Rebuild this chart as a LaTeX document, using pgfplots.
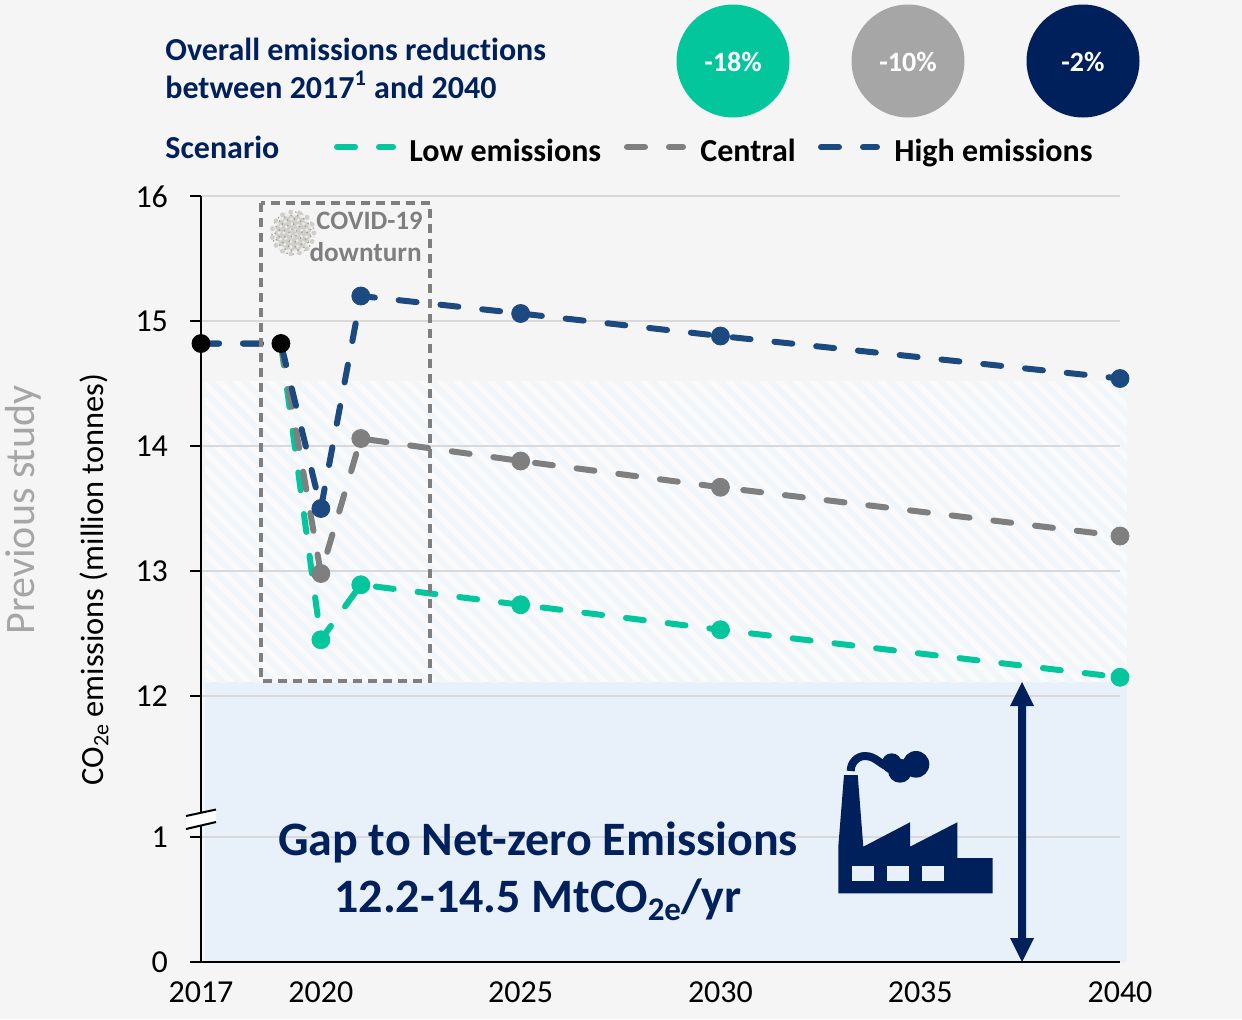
\documentclass[border=0pt]{standalone}
\usepackage{fontspec}
\setmainfont{Carlito}[Ligatures=NoCommon]
\usepackage{pgfplots}
\pgfplotsset{compat=1.18}
\usetikzlibrary{patterns.meta}
\definecolor{bgc}{HTML}{F5F5F5}
\definecolor{gapc}{HTML}{E8F0F9}
\definecolor{hatchc}{HTML}{F1F6FA}
\definecolor{hatchb}{HTML}{FAFAFA}
\definecolor{navy}{HTML}{00205C}
\definecolor{hi}{HTML}{1C4A80}
\definecolor{mid}{HTML}{7F7F7F}
\definecolor{lo}{HTML}{04C69C}
\definecolor{gridc}{HTML}{D9D9D9}
\definecolor{virus}{HTML}{CFCEC9}
\newcommand{\fs}[1]{\fontsize{#1}{#1}\selectfont}
\pgfplotstableread{
x y
2017 14.82
2019 14.82
2020 13.50
2021 15.20
2025 15.06
2030 14.88
2040 14.54
}\high
\pgfplotstableread{
x y
2017 14.82
2019 14.82
2020 12.98
2021 14.06
2025 13.88
2030 13.67
2040 13.28
}\central
\pgfplotstableread{
x y
2017 14.82
2019 14.82
2020 12.45
2021 12.89
2025 12.73
2030 12.53
2040 12.15
}\low
\pgfplotsset{common/.style={
  at={(100.5pt,-481pt)}, anchor=south west, scale only axis,
  width=459.5pt, height=383pt,
  xmin=2017, xmax=2040, ymin=0, ymax=16,
  y coord trafo/.code={\pgfmathparse{(##1>=2)?(##1-9.872):(##1)}},
  clip=false}}
\tikzset{dsh/.style={line width=3pt, line cap=round, dash pattern=on 9pt off 12pt},
  px/.style={x=0.5pt,y=-0.5pt}}
\begin{document}
\begin{tikzpicture}
\begin{scope}[px]
\useasboundingbox (0,0) rectangle (1242,1019);
\fill[bgc] (0,0) rectangle (1242,1019);
\end{scope}
% background areas
\begin{axis}[common, axis lines=none]
\addplot[draw=none, fill=gapc] coordinates {(2017.1,0) (2040.17,0) (2040.17,12.11) (2017.1,12.11)} -- cycle;
\addplot[draw=none, fill=hatchb] coordinates {(2017.1,12.11) (2040.17,12.11) (2040.17,14.52) (2017.1,14.52)} -- cycle;
\addplot[draw=none, pattern={Lines[angle=-45,distance=6pt,line width=3pt]}, pattern color=hatchc] coordinates {(2017.1,12.11) (2040.17,12.11) (2040.17,14.52) (2017.1,14.52)} -- cycle;
\end{axis}
% main axis
\begin{axis}[common,
  axis x line*=bottom, axis y line*=left,
  axis line style={black, line width=1pt, -},
  ytick={0,1,12,13,14,15,16},
  yticklabels={0,1,12,13,14,15,16},
  xtick={2017,2020,2025,2030,2035,2040},
  xticklabels={2017,2020,2025,2030,2035,2040},
  ymajorgrids, grid style={gridc, line width=0.9pt},
  tick style={black, line width=1pt},
  major tick length=5.5pt,
  x tick style={draw=none},
  tick align=outside,
  tick label style={font=\fs{16}},
  /pgf/number format/assume math mode=true,
  xticklabel style={yshift=-1pt},
  yticklabel style={xshift=-7.5pt, yshift=-0.2pt},
]
\addplot[lo, dsh] table[x=x,y=y] {\low};
\addplot[mid, dsh] table[x=x,y=y] {\central};
\addplot[hi, dsh] table[x=x,y=y] {\high};
\addplot[lo, only marks, mark=*, mark size=4.5pt, mark options={solid, fill=lo, draw=lo}] coordinates {(2020,12.45) (2021,12.89) (2025,12.73) (2030,12.53) (2040,12.15)};
\addplot[mid, only marks, mark=*, mark size=4.5pt, mark options={solid, fill=mid, draw=mid}] coordinates {(2020,12.98) (2021,14.06) (2025,13.88) (2030,13.67) (2040,13.28)};
\addplot[hi, only marks, mark=*, mark size=4.5pt, mark options={solid, fill=hi, draw=hi}] coordinates {(2020,13.50) (2021,15.20) (2025,15.06) (2030,14.88) (2040,14.54)};
\addplot[black, only marks, mark=*, mark size=4.5pt, mark options={solid, fill=black, draw=black}] coordinates {(2017,14.82) (2019,14.82)};
\end{axis}
\begin{scope}[px]
% axis break
\fill[white] (186,816) -- (216,810) -- (216,822) -- (186,829) -- cycle;
\draw[black, line width=1pt] (186,816) -- (216,809.5);
\draw[black, line width=1pt] (186,829) -- (216,822);
% covid box
\draw[mid, line width=1.6pt, dash pattern=on 4.5pt off 3pt] (261,203) rectangle (430,681);
\fill[virus] (293,233) circle (18);
\foreach \r/\n in {4/5,9/9,14/13,18/17,21/21} {
  \foreach \i in {1,...,\n} {
    \fill[black!8] (293,233) ++({\i*360/\n+\r*7}:\r) circle (1.7);
    \fill[virus!75!black] (293,233) ++({\i*360/\n+\r*7+11}:\r) circle (0.9);
  }
}
\foreach \a in {0,24,...,336} { \fill[virus] (293,233) ++(\a:21) circle (2.4); }
\node[anchor=base east, inner sep=0, text=mid, font=\bfseries\fs{13.3}] at (423,229.5) {COVID-19};
\node[anchor=base east, inner sep=0, text=mid, font=\bfseries\fs{13.6}] at (422,261.5) {downturn};
% y labels
\node[rotate=90, inner sep=0, font=\fs{16.2}] at (94,579.5) {CO\raisebox{-0.35ex}{\fs{11}2e} emissions (million tonnes)};
\node[rotate=90, inner sep=0, text=black!35, font=\fs{21}] at (23,510) {Previous study};
% titles
\node[anchor=base west, inner sep=0, text=navy, font=\bfseries\fs{16}] at (165,60) {Overall emissions reductions};
\node[anchor=base west, inner sep=0, text=navy, font=\bfseries\fs{16}] at (165,98) {between 2017\textsuperscript{1} and 2040};
\node[anchor=base west, inner sep=0, text=navy, font=\bfseries\fs{16}] at (165,158) {Scenario};
% bubbles
\fill[lo] (733,61) circle (56.5);
\fill[black!35] (908,61) circle (56.5);
\fill[navy] (1083,61) circle (56.5);
\foreach \x/\t in {733/-18\%,908/-10\%,1083/-2\%} {
  \node[text=white, font=\bfseries\fs{14}, inner sep=0] at (\x,62) {\t};
}
% legend
\draw[lo, dsh] (337,147) -- (393,147);
\draw[mid, dsh] (627,147) -- (683,147);
\draw[hi, dsh] (821,147) -- (877,147);
\node[anchor=base west, inner sep=0, font=\bfseries\fs{16}] at (409,161) {Low emissions};
\node[anchor=base west, inner sep=0, font=\bfseries\fs{16}] at (700,161) {Central};
\node[anchor=base west, inner sep=0, font=\bfseries\fs{16}] at (894,161) {High emissions};
% gap text
\node[inner sep=0, anchor=base, text=navy, font=\bfseries\fs{24}] at (538,855) {Gap to Net-zero Emissions};
\node[inner sep=0, anchor=base, text=navy, font=\bfseries\fs{24}] at (538,912) {12.2-14.5 MtCO\raisebox{-0.35ex}{\fs{16.5}2e}/yr};
% arrow
\fill[navy] (1022,682) -- (1034,706) -- (1026,706) -- (1026,938) -- (1034,938) -- (1022,962) -- (1010,938) -- (1018,938) -- (1018,706) -- (1010,706) -- cycle;
% factory
\fill[navy] (838.3,893.3) -- (992.7,893.3) -- (992.7,858) -- (957.3,858) -- (957.3,822.3) -- (910,846.7) -- (910,822.3) -- (863.3,846.7) -- (857.7,775) -- (844,775) -- (838.3,846.7) -- cycle;
\fill[gapc] (852.3,865.7) rectangle (873.7,881.3);
\fill[gapc] (887.3,865.7) rectangle (908.7,881.3);
\fill[gapc] (922.3,865.7) rectangle (943.7,881.3);
\fill[navy] (916,764.3) circle (13.3);
\fill[navy] (900,770.7) circle (12);
\fill[navy] (891.7,763.3) circle (10);
\draw[navy, line width=4pt] (850.7,771) to[out=90,in=180] (865,756) to[out=0,in=170] (892,768);
\end{scope}
\end{tikzpicture}
\end{document}
